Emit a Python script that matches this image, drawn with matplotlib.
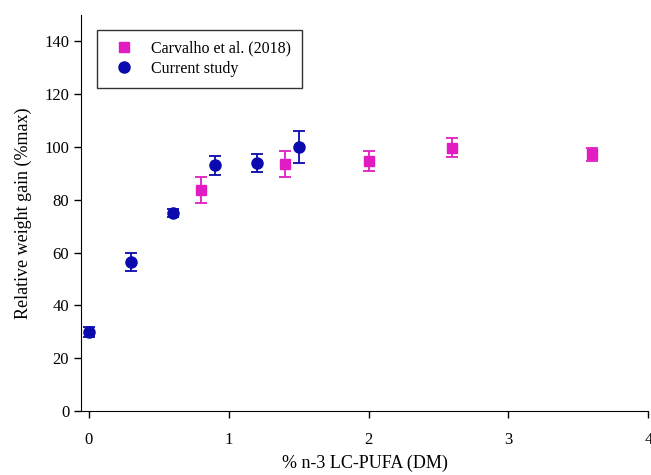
import matplotlib
matplotlib.use("Agg")
import matplotlib.pyplot as plt

# Carvalho et al. (2018)
carv_x = [0.8, 1.4, 2.0, 2.6, 3.6]
carv_y = [83.7, 93.5, 94.8, 99.8, 97.2]
carv_err = [5.0, 5.0, 3.8, 3.7, 2.5]

# Current study
curr_x = [0.0, 0.3, 0.6, 0.9, 1.2, 1.5]
curr_y = [30.0, 56.5, 75.0, 93.0, 94.0, 100.0]
curr_err = [1.8, 3.5, 1.5, 3.6, 3.3, 6.0]

x_ticks = [0, 1, 2, 3, 4]
y_ticks = [0, 20, 40, 60, 80, 100, 120, 140]

MAGENTA = "#E11CC3"
BLUE = "#0A0AAE"

plt.rcParams["font.family"] = ["Liberation Serif", "DejaVu Serif"]

fig = plt.figure(figsize=(6.51, 4.75), dpi=100)
ax = fig.add_axes([0.1244, 0.1347, 0.8715, 0.8337])

ax.errorbar(carv_x, carv_y, yerr=carv_err, fmt="s", color=MAGENTA, ms=7.5,
            capsize=4.5, elinewidth=1.3, capthick=1.3, label="Carvalho et al. (2018)")
ax.errorbar(curr_x, curr_y, yerr=curr_err, fmt="o", color=BLUE, ms=8,
            capsize=4.5, elinewidth=1.3, capthick=1.3, label="Current study")

ax.set_xlim(-0.055, 4.0)
ax.set_ylim(0, 150)
ax.set_xticks(x_ticks)
ax.set_yticks(y_ticks)
ax.spines["top"].set_visible(False)
ax.spines["right"].set_visible(False)
ax.tick_params(labelsize=12, direction="out", length=5, width=1)
ax.tick_params(axis="x", pad=10)

ax.set_xlabel("% n-3 LC-PUFA (DM)", fontsize=13, labelpad=5)
ax.set_ylabel("Relative weight gain (%max)", fontsize=13, labelpad=9)

handles, labels = ax.get_legend_handles_labels()
handles = [h[0] for h in handles]
leg = ax.legend(handles, labels, loc="upper left", bbox_to_anchor=(0.028, 0.963),
                fontsize=11.5, frameon=True, fancybox=False, edgecolor="black",
                borderpad=0.7, handletextpad=0.7, labelspacing=0.25,
                borderaxespad=0.0)
leg.get_frame().set_linewidth(1.0)

fig.savefig("out.png", dpi=100, facecolor="white")
